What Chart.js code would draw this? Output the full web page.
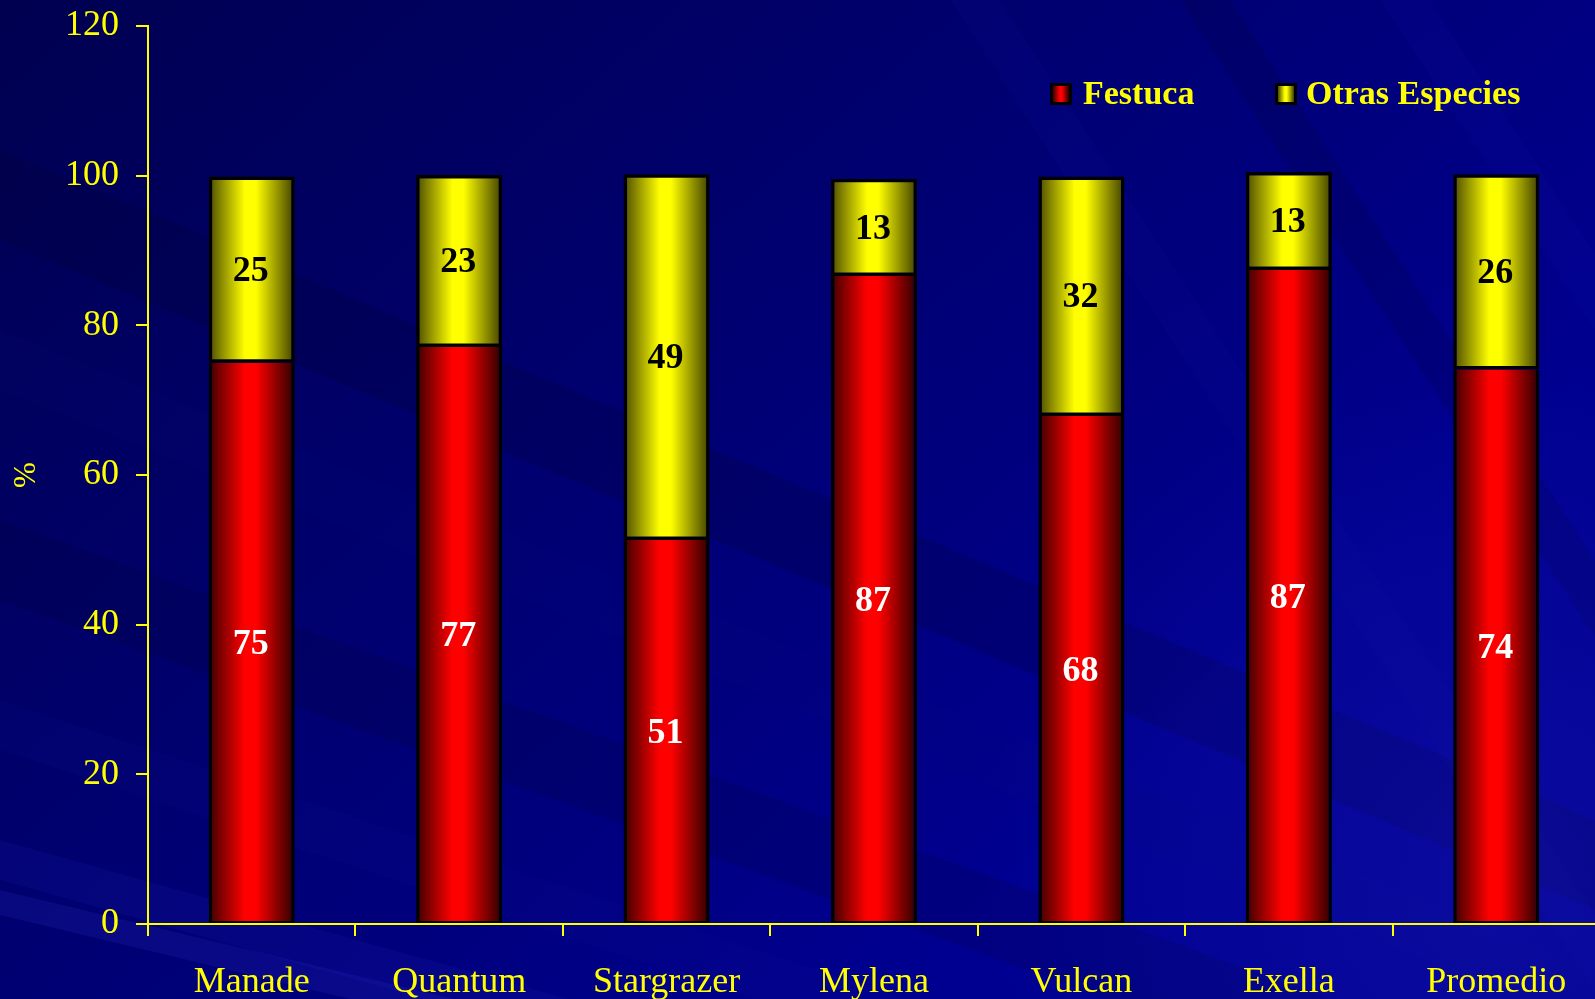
<!DOCTYPE html>
<html>
<head>
<meta charset="utf-8">
<script src="https://cdn.jsdelivr.net/npm/chart.js@4.4.1/dist/chart.umd.min.js"></script>
<style>
html,body{margin:0;padding:0;background:#000070;overflow:hidden;}
#wrap{position:relative;width:1595px;height:999px;overflow:hidden;}
canvas{display:block;}
</style>
</head>
<body>
<div id="wrap"><canvas id="c" width="1600" height="999"></canvas></div>
<script>
// ---- data ----
const categories = ['Manade', 'Quantum', 'Stargrazer', 'Mylena', 'Vulcan', 'Exella', 'Promedio'];
const festuca = [75.0, 77.1, 51.3, 86.6, 67.9, 87.4, 74.1];
const otrasEspecies = [24.9, 23.0, 48.9, 13.0, 32.0, 13.1, 26.1];
const seriesNames = ['Festuca', 'Otras Especies'];
const yMin = 0, yMax = 120, yStep = 20;
const yTitle = '%';

// ---- styles ----
const FONT = '"Liberation Serif", "Times New Roman", serif';
const YELLOW = '#ffff00';
const BAR_PCT = 0.415;
const redStops = [[0, '#3c0000'], [0.42, '#ff0000'], [0.55, '#ff0000'], [1, '#2a0000']];
const yelStops = [[0, '#4a4a00'], [0.42, '#ffff00'], [0.55, '#ffff00'], [1, '#3f3f00']];

function makeGrad(ctx, x0, x1, stops) {
  const g = ctx.createLinearGradient(x0, 0, x1, 0);
  stops.forEach(s => g.addColorStop(s[0], s[1]));
  return g;
}

function barFill(stops, fallback) {
  return function (c) {
    const chart = c.chart;
    const xs = chart.scales && chart.scales.x;
    if (!xs || !chart.chartArea || c.dataIndex === undefined) return fallback;
    const cw = (xs.right - xs.left) / categories.length;
    const w = cw * BAR_PCT;
    const cx = xs.getPixelForValue(c.dataIndex);
    return makeGrad(chart.ctx, cx - w / 2, cx + w / 2, stops);
  };
}

const bgPlugin = {
  id: 'bg',
  beforeDraw(chart) {
    const ctx = chart.ctx;
    const W = chart.width, H = chart.height;
    ctx.save();
    const g = ctx.createLinearGradient(0, 0, W * 0.55, H);
    g.addColorStop(0, '#000050');
    g.addColorStop(0.4, '#000068');
    g.addColorStop(0.75, '#00007e');
    g.addColorStop(1, '#000090');
    ctx.fillStyle = g;
    ctx.fillRect(0, 0, W, H);
    // diagonal streaks (subtle)
    const bands = [
      [150, 90, 0.42, 'rgba(0,0,40,0.18)'],
      [330, 60, 0.40, 'rgba(10,10,130,0.10)'],
      [520, 80, 0.36, 'rgba(0,0,40,0.15)'],
      [700, 50, 0.33, 'rgba(15,15,150,0.12)'],
      [840, 40, 0.28, 'rgba(30,30,180,0.16)'],
      [890, 25, 0.24, 'rgba(50,50,200,0.18)']
    ];
    bands.forEach(b => {
      const [y0, th, slope, col] = b;
      ctx.beginPath();
      ctx.moveTo(0, y0);
      ctx.lineTo(W, y0 + slope * W);
      ctx.lineTo(W, y0 + slope * W + th);
      ctx.lineTo(0, y0 + th);
      ctx.closePath();
      ctx.fillStyle = col;
      ctx.fill();
    });
    // steep streaks top right
    const steep = [[950, 'rgba(20,20,160,0.12)'], [1180, 'rgba(0,0,40,0.15)'], [1380, 'rgba(20,20,170,0.12)']];
    steep.forEach(s => {
      ctx.beginPath();
      ctx.moveTo(s[0], 0);
      ctx.lineTo(s[0] + 50, 0);
      ctx.lineTo(s[0] + 50 + 650, 999);
      ctx.lineTo(s[0] + 650, 999);
      ctx.closePath();
      ctx.fillStyle = s[1];
      ctx.fill();
    });
    // lighter lower right glow
    const rg = ctx.createRadialGradient(1500, 880, 10, 1500, 880, 520);
    rg.addColorStop(0, 'rgba(30,30,190,0.35)');
    rg.addColorStop(1, 'rgba(30,30,190,0)');
    ctx.fillStyle = rg;
    ctx.fillRect(0, 0, W, H);
    ctx.restore();
  }
};

const valueLabels = {
  id: 'valueLabels',
  afterDatasetsDraw(chart) {
    const ctx = chart.ctx;
    ctx.save();
    ctx.font = 'bold 36px ' + FONT;
    ctx.textAlign = 'center';
    ctx.textBaseline = 'middle';
    chart.data.datasets.forEach((ds, di) => {
      const meta = chart.getDatasetMeta(di);
      meta.data.forEach((bar, i) => {
        const p = bar.getProps(['x', 'y', 'base'], true);
        ctx.fillStyle = ds.labelColor;
        ctx.fillText(String(Math.round(ds.data[i])), p.x - 1, (p.y + p.base) / 2 + 2);
      });
    });
    ctx.restore();
  }
};

const legendPlugin = {
  id: 'customLegend',
  afterDraw(chart) {
    const ctx = chart.ctx;
    const boxes = [{ x: 1050, textX: 1083 }, { x: 1275, textX: 1306 }];
    const yC = 94;
    ctx.save();
    ctx.font = 'bold 34px ' + FONT;
    ctx.textBaseline = 'middle';
    ctx.textAlign = 'left';
    chart.data.datasets.forEach((ds, i) => {
      const b = boxes[i];
      ctx.fillStyle = '#000';
      ctx.fillRect(b.x, yC - 11, 22, 22);
      ctx.fillStyle = makeGrad(ctx, b.x + 3, b.x + 19, ds.stops);
      ctx.fillRect(b.x + 3, yC - 8, 16, 16);
      ctx.fillStyle = YELLOW;
      ctx.fillText(ds.label, b.textX, yC + 1);
    });
    ctx.restore();
  }
};

new Chart(document.getElementById('c'), {
  type: 'bar',
  data: {
    labels: categories,
    datasets: [
      {
        label: seriesNames[0],
        data: festuca,
        stops: redStops,
        labelColor: '#ffffff',
        backgroundColor: barFill(redStops, '#ff0000'),
        borderColor: '#000000',
        borderWidth: { top: 0, left: 3.5, right: 3.5, bottom: 2 },
        borderSkipped: false,
        barPercentage: BAR_PCT,
        categoryPercentage: 1.0
      },
      {
        label: seriesNames[1],
        data: otrasEspecies,
        stops: yelStops,
        labelColor: '#000000',
        backgroundColor: barFill(yelStops, '#ffff00'),
        borderColor: '#000000',
        borderWidth: 3.5,
        borderSkipped: false,
        barPercentage: BAR_PCT,
        categoryPercentage: 1.0
      }
    ]
  },
  options: {
    responsive: false,
    animation: false,
    layout: { padding: { top: 26, left: 0, right: 0, bottom: 0 } },
    plugins: {
      legend: { display: false },
      tooltip: { enabled: false }
    },
    scales: {
      x: {
        stacked: true,
        grid: {
          display: true,
          drawOnChartArea: false,
          drawTicks: true,
          tickLength: 12,
          color: YELLOW,
          lineWidth: 2,
          offset: true
        },
        border: { display: true, color: YELLOW, width: 2 },
        ticks: {
          color: YELLOW,
          font: { family: FONT, size: 36 },
          padding: 25,
          maxRotation: 0,
          autoSkip: false
        },
        afterFit(s) {
          s.height = 75;
          s.paddingLeft = 0;
          s.paddingRight = 0;
        }
      },
      y: {
        stacked: true,
        min: yMin,
        max: yMax,
        grid: {
          display: true,
          drawOnChartArea: false,
          drawTicks: true,
          tickLength: 12,
          color: YELLOW,
          lineWidth: 2
        },
        border: { display: true, color: YELLOW, width: 2 },
        ticks: {
          stepSize: yStep,
          color: YELLOW,
          font: { family: FONT, size: 36 },
          padding: 17
        },
        title: {
          display: true,
          text: yTitle,
          color: YELLOW,
          font: { family: FONT, size: 31 },
          padding: { top: 8, bottom: 0 }
        },
        afterFit(s) {
          s.width = 148;
          s.paddingTop = 0;
          s.paddingBottom = 0;
        }
      }
    }
  },
  plugins: [bgPlugin, valueLabels, legendPlugin]
});
</script>
</body>
</html>
